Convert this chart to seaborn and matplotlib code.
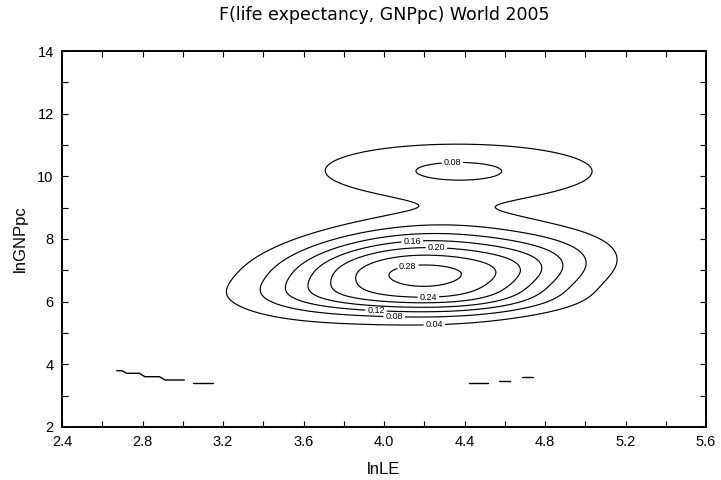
import numpy as np
import pandas as pd
import matplotlib
matplotlib.use("Agg")
import matplotlib.pyplot as plt
from matplotlib.ticker import MultipleLocator, FormatStrFormatter
import seaborn as sns

# ---- data -------------------------------------------------------------
# density surface F(lnLE, lnGNPpc) described as a sum of bivariate bumps
comp_amp = [0.0861, 0.2277, 0.0689, 0.1646, 0.0180]
comp_lnle = [4.370, 4.006, 4.181, 4.556, 4.200]
comp_lngnp = [10.177, 7.098, 6.113, 6.809, 6.840]
comp_sd_lnle = [0.534, 0.404, 0.456, 0.349, 0.220]
comp_sd_lngnp = [0.686, 0.889, 0.359, 0.809, 0.300]
comp_rho = [-0.009, 0.354, -0.076, 0.355, 0.000]

contour_levels = [0.04, 0.08, 0.12, 0.16, 0.20, 0.24, 0.28]
# where each contour label sits (lnLE, lnGNPpc)
label_pos = [(4.34, 10.42), (4.14, 7.98), (4.26, 7.74), (4.12, 7.06),
             (4.22, 6.27), (3.96, 5.69), (4.05, 5.49), (4.25, 5.26)]

# stray low-level contour fragments near lnGNPpc ~ 3.5
frag_id = [0, 0, 0, 0, 0, 0, 0, 0, 1, 1, 2, 2, 3, 3, 4, 4]
frag_lnle = [2.672, 2.697, 2.722, 2.784, 2.812, 2.884, 2.912, 3.008,
             3.049, 3.148, 4.424, 4.517, 4.573, 4.626, 4.686, 4.739]
frag_lngnp = [3.797, 3.797, 3.714, 3.714, 3.605, 3.605, 3.500, 3.500,
              3.395, 3.395, 3.395, 3.395, 3.478, 3.478, 3.596, 3.596]

x_ticks = [2.4, 2.8, 3.2, 3.6, 4.0, 4.4, 4.8, 5.2, 5.6]
y_ticks = [2, 4, 6, 8, 10, 12, 14]

# ---- figure -------------------------------------------------------------
sns.set_theme(style="ticks")
plt.rcParams["font.family"] = ["Liberation Sans", "DejaVu Sans"]
plt.rcParams["text.color"] = "black"
plt.rcParams["axes.labelcolor"] = "black"
plt.rcParams["xtick.color"] = "black"
plt.rcParams["ytick.color"] = "black"

fig = plt.figure(figsize=(7.21, 4.80), dpi=100)
ax = fig.add_axes([62 / 721, 53 / 480, 644 / 721, 376 / 480])

gx = np.linspace(x_ticks[0], x_ticks[-1], 400)
gy = np.linspace(y_ticks[0], y_ticks[-1], 600)
X, Y = np.meshgrid(gx, gy)
Z = np.zeros_like(X)
for a, mx, my, sx, sy, r in zip(comp_amp, comp_lnle, comp_lngnp,
                                comp_sd_lnle, comp_sd_lngnp, comp_rho):
    dx = (X - mx) / sx
    dy = (Y - my) / sy
    Z += a * np.exp(-0.5 * (dx * dx - 2 * r * dx * dy + dy * dy) / (1 - r * r))

cs = ax.contour(X, Y, Z, levels=contour_levels, colors="black", linewidths=0.85)
texts = ax.clabel(cs, fmt="%.2f", fontsize=6.5, inline=True, inline_spacing=2,
                  manual=label_pos)
for t in texts:
    t.set_rotation(0)

frags = pd.DataFrame({"seg": frag_id, "lnLE": frag_lnle, "lnGNPpc": frag_lngnp})
sns.lineplot(data=frags, x="lnLE", y="lnGNPpc", units="seg", estimator=None,
             sort=False, color="black", linewidth=1.0, ax=ax, legend=False)

ax.set_xlim(x_ticks[0], x_ticks[-1])
ax.set_ylim(y_ticks[0], y_ticks[-1])
ax.set_xticks(x_ticks)
ax.set_yticks(y_ticks)
ax.xaxis.set_major_formatter(FormatStrFormatter("%.1f"))
ax.yaxis.set_major_formatter(FormatStrFormatter("%d"))
ax.xaxis.set_minor_locator(MultipleLocator(0.2))
ax.yaxis.set_minor_locator(MultipleLocator(1))
ax.tick_params(which="both", direction="in", top=True, right=True,
               length=4, width=0.8, labelsize=10.5, pad=6)
for s in ax.spines.values():
    s.set_visible(True)
    s.set_linewidth(1.4)
    s.set_color("black")

ax.set_xlabel("lnLE", fontsize=12)
ax.set_ylabel("lnGNPpc", fontsize=12)
ax.xaxis.set_label_coords(0.5, (10 - 53) / 376)
ax.xaxis.label.set_va("center")
ax.yaxis.set_label_coords((20 - 62) / 644, 0.5)
ax.yaxis.label.set_va("center")

fig.text((62 + 322) / 721, 1 - 15 / 480, "F(life expectancy, GNPpc) World 2005",
         ha="center", va="center", fontsize=12.5, family="DejaVu Sans")

fig.savefig("out.png", dpi=100, facecolor="white")
